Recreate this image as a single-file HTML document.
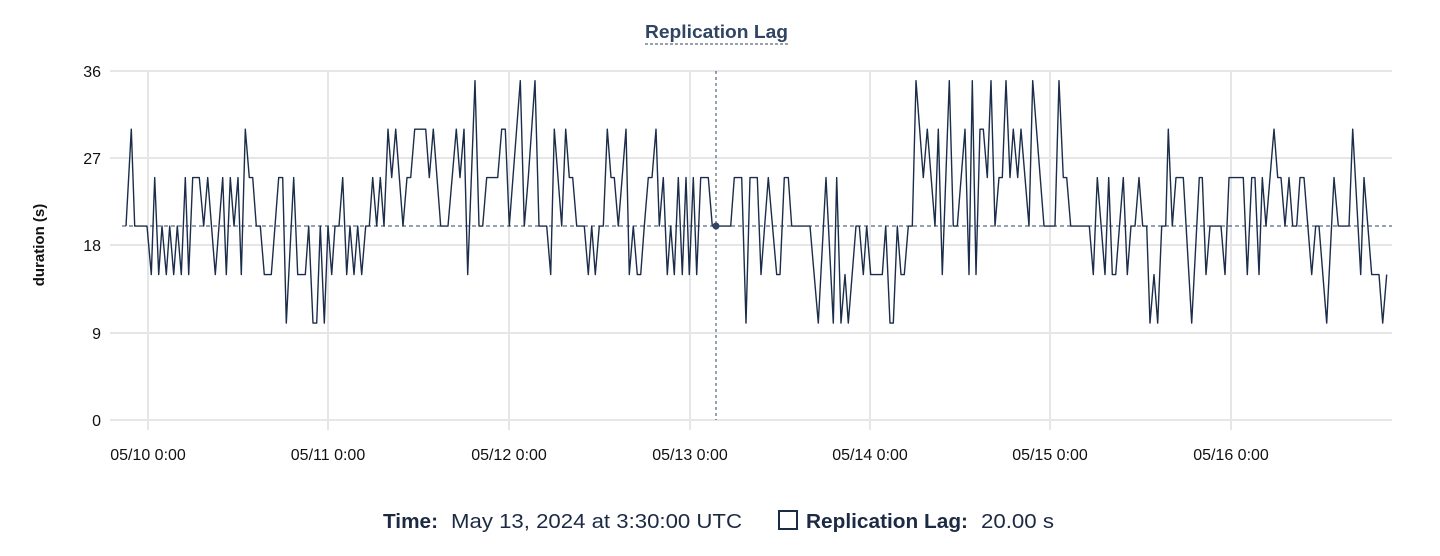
<!DOCTYPE html>
<html><head><meta charset="utf-8"><style>
body{margin:0;background:#fff;width:1440px;height:556px;overflow:hidden;font-family:"Liberation Sans",sans-serif}
</style></head><body>
<svg id="s" width="1440" height="556" xmlns="http://www.w3.org/2000/svg" style="position:absolute;left:0;top:0">
<g stroke="#e6e6e6" stroke-width="2">
<line x1="110" y1="71" x2="1392" y2="71"/><line x1="110" y1="158" x2="1392" y2="158"/><line x1="110" y1="245" x2="1392" y2="245"/><line x1="110" y1="333" x2="1392" y2="333"/><line x1="110" y1="420" x2="1392" y2="420"/>
<line x1="148" y1="71" x2="148" y2="430"/><line x1="328" y1="71" x2="328" y2="430"/><line x1="509" y1="71" x2="509" y2="430"/><line x1="690" y1="71" x2="690" y2="430"/><line x1="870" y1="71" x2="870" y2="430"/><line x1="1050" y1="71" x2="1050" y2="430"/><line x1="1231" y1="71" x2="1231" y2="430"/>
</g>
<g font-size="16" fill="#111" text-anchor="end">
<text x="101" y="77">36</text><text x="101" y="164">27</text><text x="101" y="251">18</text><text x="101" y="339">9</text><text x="101" y="426">0</text>
</g>
<g font-size="16" fill="#111" text-anchor="middle">
<text x="148" y="460">05/10 0:00</text><text x="328" y="460">05/11 0:00</text><text x="509" y="460">05/12 0:00</text><text x="690" y="460">05/13 0:00</text><text x="870" y="460">05/14 0:00</text><text x="1050" y="460">05/15 0:00</text><text x="1231" y="460">05/16 0:00</text>
</g>
<text transform="translate(44,245) rotate(-90)" text-anchor="middle" font-size="15" font-weight="bold" fill="#111">duration (s)</text>
<text x="645" y="38" font-size="18" font-weight="bold" fill="#2f4563" textLength="143" lengthAdjust="spacingAndGlyphs">Replication Lag</text>
<line x1="645" y1="44" x2="788" y2="44" stroke="#2f4563" stroke-width="1" stroke-dasharray="3,2"/>
<line x1="122" y1="226" x2="1392" y2="226" stroke="#2f4563" stroke-width="1" stroke-dasharray="4,3"/>
<line x1="716" y1="71" x2="716" y2="420" stroke="#2f4563" stroke-width="1" stroke-dasharray="3,3"/>
<polyline id="p" fill="none" stroke="#1b2d4a" stroke-width="1.4" stroke-linejoin="round"/>
<circle cx="716" cy="226" r="3.5" fill="#2f4563"/>
<g font-size="20" fill="#1d2a44">
<text x="383" y="528" font-weight="bold" textLength="55" lengthAdjust="spacingAndGlyphs">Time:</text>
<text x="451" y="528" textLength="291" lengthAdjust="spacingAndGlyphs">May 13, 2024 at 3:30:00 UTC</text>
<rect x="779" y="511" width="18" height="18" fill="none" stroke="#1d2a44" stroke-width="2"/>
<text x="806" y="528" font-weight="bold" textLength="162" lengthAdjust="spacingAndGlyphs">Replication Lag:</text>
<text x="981" y="528" textLength="73" lengthAdjust="spacingAndGlyphs">20.00 s</text>
</g>
</svg>
<script>
var Z=[
[112,[[42,20],[58,30],[68,20],[105,20],[118,15],[128,25],[140,15],[150,20],[163,15],[173,20],[185,15],[196,20],[208,15],[220,25],[230,15],[242,25],[262,25],[275,20],[287,25],[310,15],[332,25],[343,15],[355,25],[366,20],[378,25],[388,15],[400,30],[412,25],[422,25],[433,20],[445,20],[457,15],[478,15],[500,25],[512,25],[523,10],[545,25],[557,15],[580,15],[590,20],[603,10],[614,10],[625,20],[637,10],[648,20]]],
[320,[[35,15],[45,20],[57,20],[68,25],[80,15],[90,20],[102,15],[113,20],[125,15],[137,20],[148,20],[158,25],[170,20],[181,25],[192,20],[204,30],[215,25],[227,30],[249,20],[261,25],[272,25],[284,30],[317,30],[328,25],[340,30],[362,20],[384,20],[409,30],[420,25],[432,30],[443,15],[465,35],[477,20],[488,20],[500,25],[533,25],[545,30],[556,30],[568,20],[601,35],[613,20],[625,25]]],
[530,[[15,35],[27,20],[50,20],[62,15],[73,30],[95,20],[107,30],[118,25],[128,25],[140,20],[163,20],[175,15],[185,20],[196,15],[208,20],[220,20],[232,30],[243,25],[253,25],[265,20],[288,30],[298,15],[310,20],[322,15],[332,15],[343,20],[355,25],[366,25],[378,30],[388,20],[400,25],[412,15],[422,20],[433,15],[445,25],[457,15],[468,25],[478,15],[490,25],[500,15],[512,25],[535,25],[547,20],[558,20],[602,20],[613,25],[635,25],[648,10],[660,25]]],
[740,[[52,25],[63,15],[85,25],[110,15],[120,15],[133,25],[145,25],[155,20],[210,20],[235,10],[258,25],[280,10],[290,25],[303,10],[315,15],[325,10],[348,20],[358,20],[370,15],[380,20],[392,15],[427,15],[437,20],[450,10],[460,10],[472,20],[483,15],[493,15],[505,20],[517,20],[528,35],[550,25],[562,30],[585,20],[595,30],[607,15],[628,35]]],
[950,[[10,20],[22,20],[45,30],[57,15],[67,35],[78,15],[90,30],[100,30],[112,25],[123,35],[135,20],[147,25],[157,25],[168,35],[180,25],[190,30],[203,25],[213,30],[237,20],[248,35],[282,20],[315,20],[327,35],[340,25],[350,25],[362,20],[418,20],[430,15],[442,25],[465,15],[476,25],[487,15],[497,15],[520,25],[532,15],[543,20],[555,20],[567,25],[578,20],[590,20],[600,10],[612,15],[623,10],[635,20],[647,20]]],
[1160,[[25,30],[37,20],[48,25],[70,25],[95,10],[118,25],[127,25],[138,15],[150,20],[183,20],[195,15],[207,25],[250,25],[262,15],[275,25],[285,25],[297,15],[307,25],[318,20],[342,30],[353,25],[363,25],[375,20],[387,25],[398,20],[410,20],[420,25],[432,25],[455,15],[467,20],[477,20],[500,10],[522,25],[535,20],[567,20],[578,30],[602,15],[612,25],[635,15],[657,15],[668,10],[680,15]]]];
var pts=[];Z.forEach(function(z){z[1].forEach(function(p){pts.push((z[0]+p[0]/3).toFixed(1)+","+(420-p[1]*349/36).toFixed(1));});});
document.getElementById("p").setAttribute("points",pts.join(" "));
</script>
</body></html>
